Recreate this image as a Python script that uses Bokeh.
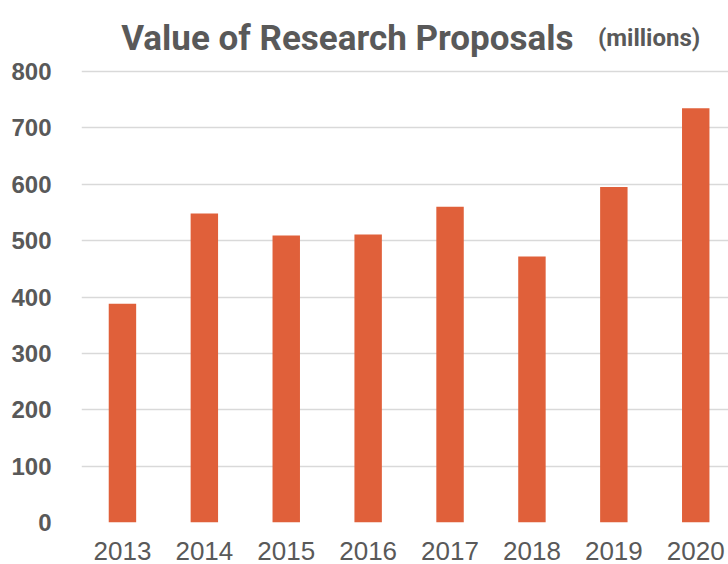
from bokeh.plotting import figure
from bokeh.models import Range1d, FixedTicker, Label, ColumnDataSource
from bokeh.embed import file_html
from bokeh.resources import INLINE

years = ["2013", "2014", "2015", "2016", "2017", "2018", "2019", "2020"]
values = [388, 548, 509, 511, 560, 472, 595, 735]
y_ticks = [0, 100, 200, 300, 400, 500, 600, 700, 800]

title_main = "Value of Research Proposals"
title_unit = "(millions)"

BAR = "#E0603A"
GREY = "#595959"
GRID = "#D9D9D9"
TITLE_FONT = "Roboto"

idx = list(range(len(years)))
src = ColumnDataSource(dict(x=idx, top=values, year=years))

p = figure(width=728, height=564, output_backend="svg", toolbar_location=None,
           x_range=Range1d(-0.5, 7.40), y_range=Range1d(0, 926),
           min_border_left=81, min_border_right=0, min_border_top=0,
           min_border_bottom=42)
p.outline_line_color = None
p.background_fill_color = "white"
p.border_fill_color = "white"

p.vbar(x="x", top="top", bottom=0, width=0.335, source=src,
       fill_color=BAR, line_color=None)

# axes
p.xaxis.ticker = FixedTicker(ticks=idx)
p.xaxis.major_label_overrides = {i: y for i, y in zip(idx, years)}
p.xaxis.axis_line_color = None
p.xaxis.major_tick_line_color = None
p.xaxis.minor_tick_line_color = None
p.xaxis.major_label_text_font = "Liberation Sans"
p.xaxis.major_label_text_font_size = "26px"
p.xaxis.major_label_text_color = GREY
p.xaxis.major_label_standoff = 13

p.yaxis.ticker = FixedTicker(ticks=y_ticks)
p.yaxis.axis_line_color = None
p.yaxis.major_tick_line_color = None
p.yaxis.minor_tick_line_color = None
p.yaxis.major_label_text_font = "Liberation Sans"
p.yaxis.major_label_text_font_style = "bold"
p.yaxis.major_label_text_font_size = "24px"
p.yaxis.major_label_text_color = GREY
p.yaxis.major_label_standoff = 24

p.xgrid.grid_line_color = None
p.ygrid.grid_line_color = GRID
p.ygrid.grid_line_width = 1.6
p.ygrid.ticker = FixedTicker(ticks=y_ticks)

# title pieces (inside the frame, above the 800 gridline)
t1 = Label(x=-0.015, y=859, text=title_main,
           text_font=TITLE_FONT, text_font_style="bold",
           text_font_size="35px", text_color=GREY, text_baseline="alphabetic",
           text_align="left")
t2 = Label(x=6.43, y=859, text=title_unit,
           text_font=TITLE_FONT, text_font_style="bold",
           text_font_size="24px", text_color=GREY, text_baseline="alphabetic",
           text_align="center")
p.add_layout(t1)
p.add_layout(t2)

open("out.html", "w").write(file_html(p, INLINE))
